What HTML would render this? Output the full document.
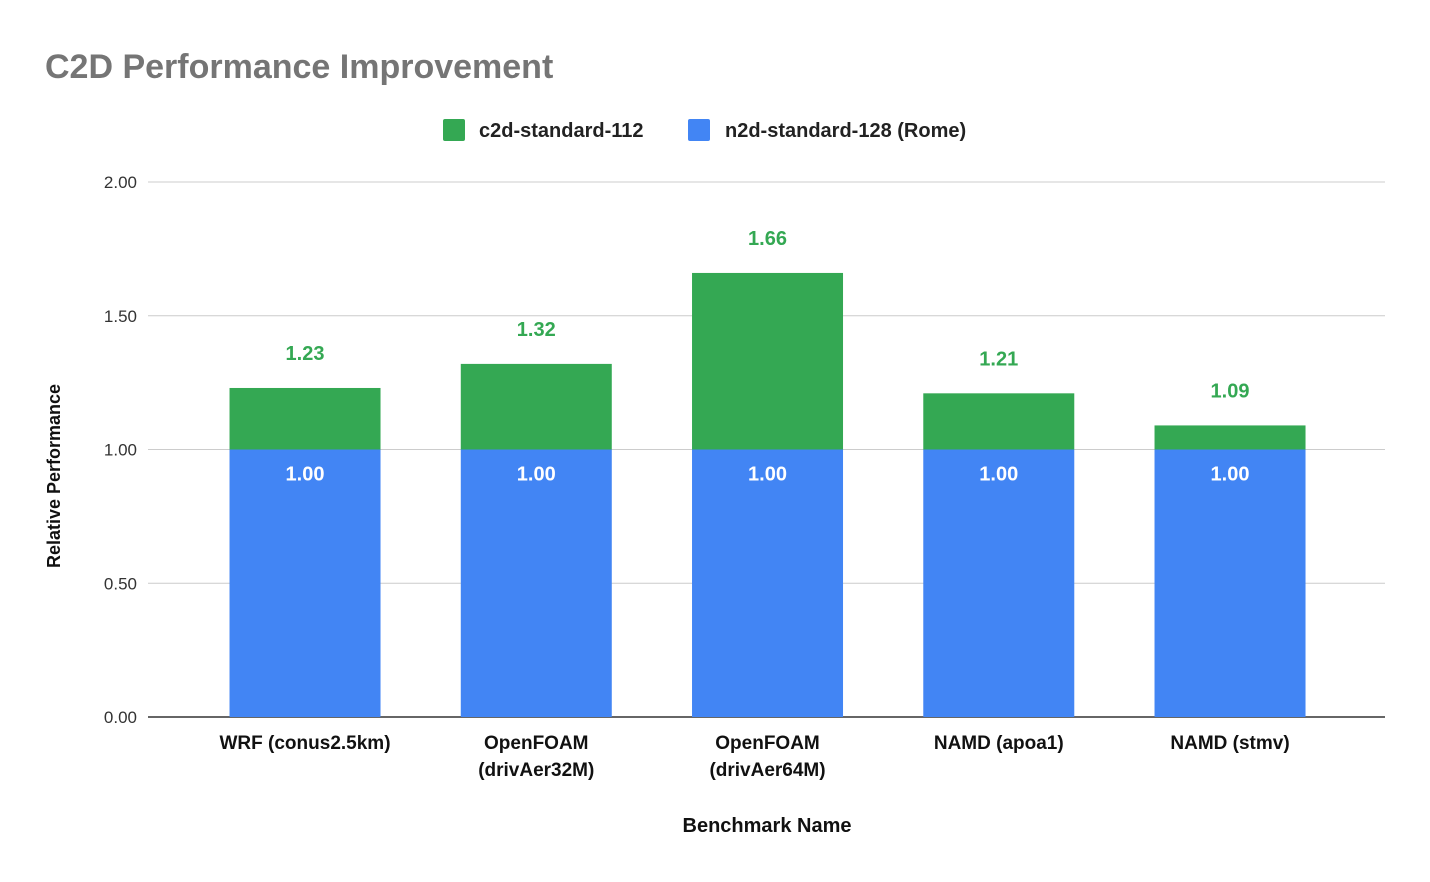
<!DOCTYPE html>
<html><head><meta charset="utf-8"><style>
html,body{margin:0;padding:0;background:#fff;}
svg{display:block;font-family:"Liberation Sans",Arial,sans-serif;}
</style></head><body>
<svg id="chart" width="1430" height="882" viewBox="0 0 1430 882" xmlns="http://www.w3.org/2000/svg">
<text x="45" y="78" font-size="34" font-weight="bold" fill="#757575">C2D Performance Improvement</text>
<g>
<rect x="443" y="119" width="22" height="22" rx="2" fill="#34a853"/>
<text x="479" y="137" font-size="20" font-weight="bold" fill="#222">c2d-standard-112</text>
<rect x="688" y="119" width="22" height="22" rx="2" fill="#4285f4"/>
<text x="725" y="137" font-size="20" font-weight="bold" fill="#222">n2d-standard-128 (Rome)</text>
</g>
<g id="grid"></g><g id="bars"></g><g id="labels"></g>
<text transform="translate(60,476) rotate(-90)" text-anchor="middle" font-size="18" font-weight="bold" fill="#111">Relative Performance</text>
<text x="767" y="832" text-anchor="middle" font-size="20" font-weight="bold" fill="#111">Benchmark Name</text>
</svg>
<script>
const categories=[["WRF (conus2.5km)"],["OpenFOAM","(drivAer32M)"],["OpenFOAM","(drivAer64M)"],["NAMD (apoa1)"],["NAMD (stmv)"]];
const n2dValues=[1.00,1.00,1.00,1.00,1.00];
const c2dValues=[1.23,1.32,1.66,1.21,1.09];
const yTicks=[0,0.5,1.0,1.5,2.0];
const NS="http://www.w3.org/2000/svg";
const y0=717,pxPer=267.5,axL=148,axR=1385,bandStart=189.4,band=231.25,barW=151;
const yS=v=>y0-v*pxPer;
const xC=i=>bandStart+band*(i+0.5);
function mk(tag,attrs,parent,text){const e=document.createElementNS(NS,tag);for(const k in attrs)e.setAttribute(k,attrs[k]);if(text!=null)e.textContent=text;document.getElementById(parent).appendChild(e);return e;}
yTicks.forEach(t=>{
 const l=mk('line',{x1:axL,x2:axR,y1:yS(t),y2:yS(t),stroke:t===0?'#333':'#ccc','stroke-width':t===0?1.5:1},'grid');
 
 
 const tx=mk('text',{x:137,y:yS(t)+6,'text-anchor':'end','font-size':17,fill:'#333'},'grid',t.toFixed(2));
 
 
});
categories.forEach((c,i)=>{
 const x=xC(i)-barW/2;
 const b=mk('rect',{x:x,y:yS(n2dValues[i]),width:barW,height:yS(0)-yS(n2dValues[i]),fill:'#4285f4'},'bars');
 
 
 const g=mk('rect',{x:x,y:yS(c2dValues[i]),width:barW,height:yS(n2dValues[i])-yS(c2dValues[i]),fill:'#34a853'},'bars');
 
 
 const lb=mk('text',{x:xC(i),y:yS(n2dValues[i])+31,'text-anchor':'middle','font-size':20,'font-weight':'bold',fill:'#fff'},'labels',n2dValues[i].toFixed(2));
 
 
 const lg=mk('text',{x:xC(i),y:yS(c2dValues[i])-28,'text-anchor':'middle','font-size':20,'font-weight':'bold',fill:'#34a853'},'labels',c2dValues[i].toFixed(2));
 
 
 c.forEach((line,j)=>{
  const t=mk('text',{x:xC(i),y:749+j*27,'text-anchor':'middle','font-size':19,'font-weight':'bold',fill:'#111'},'labels',line);
  
  
 });
});
</script>
</body></html>
